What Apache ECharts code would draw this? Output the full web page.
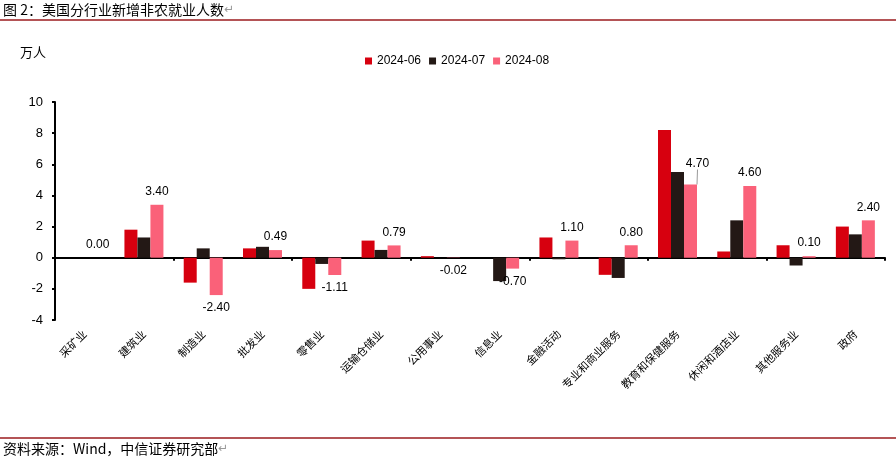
<!DOCTYPE html>
<html>
<head>
<meta charset="utf-8">
<script src="https://cdn.jsdelivr.net/npm/echarts@6/dist/echarts.min.js"></script>
<style>
html, body { margin: 0; padding: 0; background: #fff; }
#chart { width: 896px; height: 463px; }
</style>
</head>
<body>
<div id="chart"></div>
<script>
// 行业
var categories = ['采矿业', '建筑业', '制造业', '批发业', '零售业', '运输仓储业', '公用事业',
    '信息业', '金融活动', '专业和商业服务', '教育和保健服务', '休闲和酒店业', '其他服务业', '政府'];
// 新增非农就业（万人）
var jun = [0, 1.8, -1.6, 0.6, -2.0, 1.1, 0.1, 0, 1.3, -1.1, 8.2, 0.4, 0.8, 2.0];
var jul = [0, 1.3, 0.6, 0.7, -0.4, 0.5, 0, -1.5, -0.1, -1.3, 5.5, 2.4, -0.5, 1.5];
var aug = [0.00, 3.40, -2.40, 0.49, -1.11, 0.79, -0.02, -0.70, 1.10, 0.80, 4.70, 4.60, 0.10, 2.40];
var seriesNames = ['2024-06', '2024-07', '2024-08'];
var colors = ['#D7000F', '#231815', '#FA6179'];
var movedLabel = 10; // 教育和保健服务的标签被挪开，带引导线

var cnFont = '"Noto Sans CJK SC", sans-serif';
var numFont = '"Liberation Sans", Arial, sans-serif';

var myChart = echarts.init(document.getElementById('chart'));

function barSeries(name, arr, color, withLabel) {
    var s = {
        name: name,
        type: 'bar',
        barWidth: 13,
        barGap: '0%',
        itemStyle: { color: color },
        data: arr.map(function (v, i) {
            var item = { value: v };
            if (withLabel) {
                item.label = {
                    show: true,
                    position: v < 0 ? 'bottom' : 'top',
                    distance: 7,
                    formatter: function (p) { return p.value.toFixed(2); },
                    color: '#000',
                    fontSize: 12,
                    fontFamily: numFont
                };
                item.labelLine = { show: i === movedLabel, lineStyle: { color: '#999', width: 1 } };
            }
            return item;
        })
    };
    if (withLabel) {
        s.labelLine = { show: false };
        s.labelLayout = function (p) {
            if (p.dataIndex === movedLabel) return { dx: 7, dy: -8 };
            return {};
        };
    }
    return s;
}

var option = {
    animation: false,
    backgroundColor: '#fff',
    color: colors,
    legend: {
        data: seriesNames,
        top: 50,
        left: 360,
        itemWidth: 7,
        itemHeight: 7,
        itemGap: 8,
        icon: 'rect',
        textStyle: { fontSize: 12, color: '#000', fontFamily: numFont }
    },
    grid: { left: 55, right: 11, top: 102, bottom: 143 },
    xAxis: [{
        type: 'category',
        data: categories,
        axisLine: { onZero: true, lineStyle: { color: '#000', width: 2 } },
        axisTick: { show: true, length: 3, lineStyle: { color: '#000', width: 2 } },
        axisLabel: { show: false }
    }, {
        type: 'category',
        data: categories,
        position: 'bottom',
        axisLine: { show: false, onZero: false },
        axisTick: { show: false },
        axisLabel: {
            rotate: 45,
            margin: 12,
            interval: 0,
            fontSize: 11,
            color: '#000',
            fontFamily: cnFont
        }
    }],
    yAxis: {
        type: 'value',
        min: -4,
        max: 10,
        interval: 2,
        axisLine: { show: true, lineStyle: { color: '#000', width: 2 } },
        axisTick: { show: true, length: 3, lineStyle: { color: '#000', width: 2 } },
        splitLine: { show: false },
        axisLabel: { fontSize: 13, color: '#000', fontFamily: numFont, margin: 12 }
    },
    series: [
        barSeries(seriesNames[0], jun, colors[0], false),
        barSeries(seriesNames[1], jul, colors[1], false),
        barSeries(seriesNames[2], aug, colors[2], true)
    ],
    graphic: [
        {
            type: 'text', left: 3, top: 3,
            style: { text: '图 2：美国分行业新增非农就业人数', fill: '#000', font: '14px ' + cnFont }
        },
        {
            type: 'text', left: 224, top: 4,
            style: { text: '↵', fill: '#999', font: '12px "DejaVu Sans"' }
        },
        {
            type: 'line', shape: { x1: 0, y1: 20, x2: 896, y2: 20 },
            style: { stroke: '#9B1B1E', lineWidth: 1.5 }
        },
        {
            type: 'text', left: 20, top: 46,
            style: { text: '万人', fill: '#000', font: '13px ' + cnFont }
        },
        {
            type: 'line', shape: { x1: 0, y1: 438, x2: 896, y2: 438 },
            style: { stroke: '#9B1B1E', lineWidth: 1.5 }
        },
        {
            type: 'text', left: 3, top: 442,
            style: { text: '资料来源：Wind，中信证券研究部', fill: '#000', font: '14px ' + cnFont }
        },
        {
            type: 'text', left: 218, top: 443,
            style: { text: '↵', fill: '#999', font: '12px "DejaVu Sans"' }
        }
    ]
};

myChart.setOption(option);
</script>
</body>
</html>
